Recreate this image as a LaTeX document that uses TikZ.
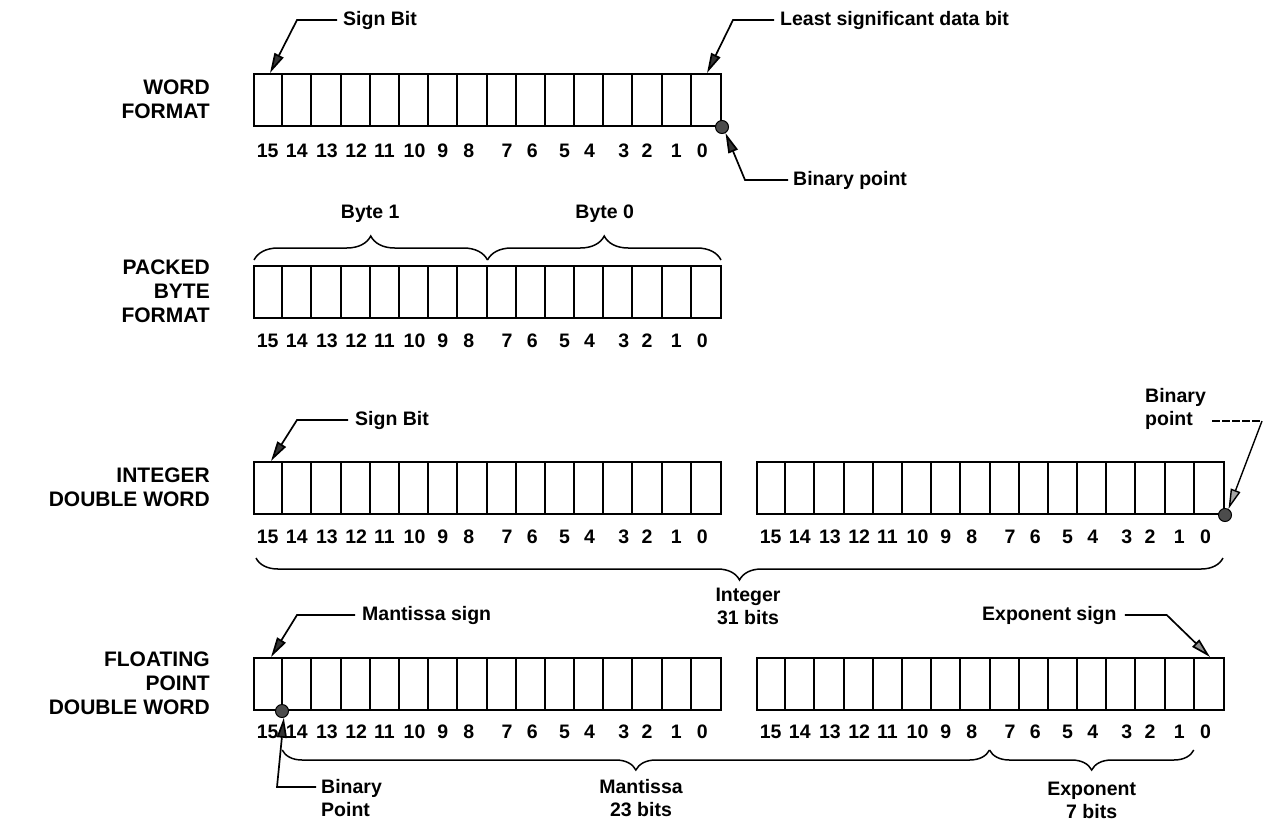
\documentclass[tikz,border=0pt]{standalone}
\usepackage{fontspec}
\setmainfont{Liberation Sans}
\usetikzlibrary{arrows.meta,decorations.pathreplacing,calc}

\newcommand{\cw}{29.1875}
\newcommand{\regbox}[3]{%
  \node[register] (#1) at (#2,#3) {};
  \foreach \k in {1,...,15}{%
    \draw[divider] ($(#1.north west)+({round(\k*\cw)},0)$) -- ($(#1.south west)+({round(\k*\cw)},0)$);}%
}
\newcommand{\bitnums}[2]{%
  \foreach \b/\dx in {15/0,14/0,13/1,12/1,11/0,10/1,9/0,8/-3,7/6,6/2,5/5,4/1,3/6,2/0,1/0,0/-3}{%
    \node[bitnum] (#1n\b) at ($(#1.north west)+({(15-\b+0.5)*\cw+\dx},#2)$) {\b};}%
}

\begin{document}
\begin{tikzpicture}[x=1pt,y=-1pt,
  title/.style={font=\fontsize{21}{24}\selectfont\bfseries, align=right, anchor=east, inner sep=0pt},
  callout/.style={font=\fontsize{19.5}{23}\selectfont\bfseries, inner sep=0pt},
  bitnum/.style={font=\fontsize{19.5}{22}\selectfont\bfseries, inner sep=0pt},
  register/.style={draw, line width=2pt, minimum width=467pt, minimum height=52pt, inner sep=0pt, anchor=north west},
  divider/.style={line width=2pt},
  pointer/.style={line width=1.7pt, -{Triangle[length=20pt,width=10pt,fill=black!80]}},
  bpoint/.style={circle, draw, line width=1pt, fill=black!70, minimum size=13pt, inner sep=0pt},
  bracket/.style={decorate, decoration={brace, amplitude=#1}, line width=1.5pt},
]
\fill[white] (0,0) rectangle (1265,820);
\useasboundingbox (0,0) rectangle (1265,820);

% ---------------- WORD FORMAT
\node[title] (t1) at (210,99) {WORD\\FORMAT};
\regbox{w1}{253}{73}
\bitnums{w1}{78}
\node[callout, anchor=west] (sb1) at (343,20) {Sign Bit};
\draw[pointer] ([xshift=-6pt]sb1.west) -- ([xshift=-46pt]sb1.west) -- ($(w1.north west)+(17,0)$);
\node[callout, anchor=west] (lsb) at (780,20) {Least significant data bit};
\draw[pointer] ([xshift=-6pt]lsb.west) -- ([xshift=-47pt]lsb.west) -- ($(w1.north east)+(-15,0)$);
\node[bpoint] (bp1) at (w1.south east) {};
\node[callout, anchor=west] (bpt1) at (793,180) {Binary point};
\draw[pointer] ([xshift=-5pt]bpt1.west) -- ([xshift=-48pt]bpt1.west) -- (bp1.-60);

% ---------------- PACKED BYTE FORMAT
\node[title] (t2) at (210,291) {PACKED\\BYTE\\FORMAT};
\regbox{p1}{253}{265}
\bitnums{p1}{76}
\draw[bracket=24] ($(p1.north west)+(1,-5)$) -- ($(p1.north)+(0,-5)$);
\draw[bracket=24] ($(p1.north)+(0,-5)$) -- ($(p1.north east)+(-1,-5)$);
\node[callout] (byte1) at ($(p1.north west)!0.25!(p1.north east)+(0,-51)$) {Byte 1};
\node[callout] (byte0) at ($(p1.north west)!0.75!(p1.north east)+(0,-51)$) {Byte 0};

% ---------------- INTEGER DOUBLE WORD
\node[title] (t3) at (210,487) {INTEGER\\DOUBLE WORD};
\regbox{i1}{253}{461}
\regbox{i0}{756}{461}
\bitnums{i1}{76}
\bitnums{i0}{76}
\node[callout, anchor=west] (sb2) at (355,420) {Sign Bit};
\draw[pointer] ([xshift=-7pt]sb2.west) -- ([xshift=-58pt]sb2.west) -- ($(i1.north west)+(18,0)$);
\node[bpoint] (bp2) at (i0.south east) {};
\node[callout, anchor=west, align=left] (bpt2) at (1145,409) {Binary\\point};
\coordinate (bpc) at (1262,421);
\draw[line width=1.5pt, dash pattern=on 8pt off 2pt] (bpc -| bpt2.east) ++(6,0) -- (bpc);
\draw[pointer, line width=1.4pt, -{Triangle[length=20pt,width=10pt,open,fill=black!35]}] (bpc) -- (bp2.60);
\draw[bracket=22] ($(i0.south east)+(-2,43)$) -- ($(i1.south west)+(3,43)$);
\node[callout, align=center] (intl) at (748,606) {Integer\\31 bits};

% ---------------- FLOATING POINT DOUBLE WORD
\node[title] (t4) at (210,683) {FLOATING\\POINT\\DOUBLE WORD};
\regbox{f1}{253}{657}
\regbox{f0}{756}{657}
\bitnums{f1}{75}
\bitnums{f0}{75}
\node[callout, anchor=west] (ms) at (362,615) {Mantissa sign};
\draw[pointer] ([xshift=-7pt]ms.west) -- ([xshift=-65pt]ms.west) -- ($(f1.north west)+(18,0)$);
\node[callout, anchor=west] (es) at (982,615) {Exponent sign};
\draw[pointer, -{Triangle[length=20pt,width=10pt,open,fill=black!45]}] ([xshift=8pt]es.east) -- ([xshift=50pt]es.east) -- ($(f0.north east)+(-15,0)$);
\node[bpoint] (bp3) at ($(f1.south west)+(29,0)$) {};
\node[callout, anchor=west, align=left] (bpt3) at (321,798) {Binary\\Point};
\coordinate (bpe) at (277,787);
\draw[pointer] ([xshift=-5pt]bpt3.west |- bpe) -- (bpe) -- (bp3.-75);
\draw[bracket=20] ($(f0.south west)+(8*\cw,39)$) -- ($(f1.south west)+(\cw,39)$);
\draw[bracket=20] ($(f0.south west)+(15*\cw,39)$) -- ($(f0.south west)+(8*\cw,39)$);
\node[callout, align=center] (mant) at (641,798) {Mantissa\\23 bits};
\node[callout, align=center] (expo) at ($(f0.south west)+(11.5*\cw,89)$) {Exponent\\7 bits};
\end{tikzpicture}
\end{document}
